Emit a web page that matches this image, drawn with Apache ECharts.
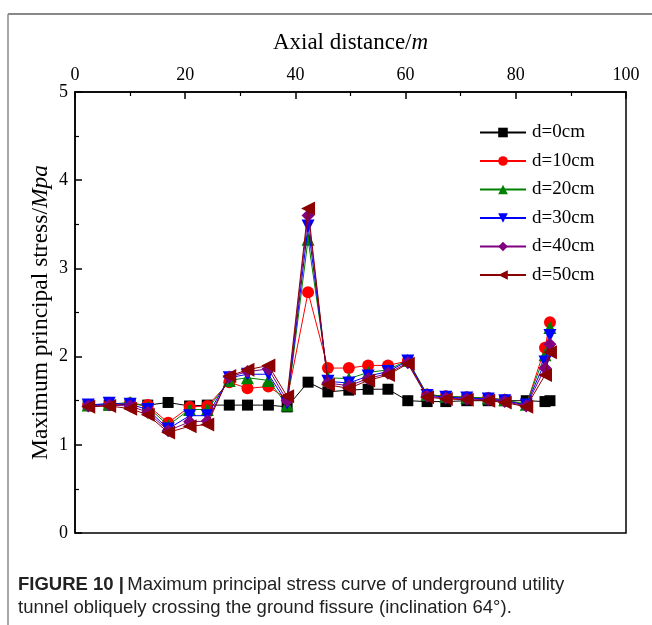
<!DOCTYPE html>
<html>
<head>
<meta charset="utf-8">
<script src="https://cdn.jsdelivr.net/npm/echarts@6/dist/echarts.min.js"></script>
<style>
html,body{margin:0;padding:0;background:#fff;}
#c{width:652px;height:625px;}
</style>
</head>
<body>
<div id="c"></div>
<script>
// Axial distance (m)
var xs = [2.4, 6.2, 10.0, 13.2, 16.9, 20.8, 24.0, 28.0, 31.3, 35.1, 38.5, 42.3, 45.9, 49.7, 53.2, 56.8, 60.4, 63.9, 67.3, 71.1, 75.0, 78.0, 81.9, 85.3, 86.2];
var d0  = [1.45,1.45,1.46,1.45,1.48,1.44,1.45,1.45,1.45,1.45,1.43,1.71,1.60,1.62,1.63,1.63,1.50,1.49,1.49,1.50,1.50,1.50,1.50,1.49,1.50];
var d10 = [1.45,1.45,1.47,1.45,1.25,1.43,1.44,1.71,1.64,1.66,1.52,2.73,1.87,1.87,1.90,1.90,1.95,1.57,1.55,1.54,1.53,1.51,1.45,2.10,2.39];
var d20 = [1.45,1.46,1.48,1.43,1.22,1.40,1.40,1.73,1.76,1.73,1.45,3.33,1.76,1.75,1.82,1.85,1.96,1.57,1.55,1.54,1.53,1.51,1.46,2.02,2.33];
var d30 = [1.45,1.47,1.46,1.40,1.18,1.33,1.33,1.76,1.80,1.80,1.47,3.48,1.72,1.70,1.78,1.83,1.95,1.56,1.54,1.53,1.52,1.50,1.45,1.94,2.24];
var d40 = [1.44,1.45,1.44,1.37,1.16,1.26,1.27,1.77,1.83,1.86,1.50,3.60,1.70,1.67,1.75,1.81,1.93,1.55,1.53,1.52,1.51,1.49,1.44,1.87,2.14];
var d50 = [1.43,1.44,1.41,1.34,1.14,1.21,1.23,1.78,1.85,1.90,1.55,3.68,1.68,1.64,1.73,1.79,1.92,1.54,1.52,1.51,1.50,1.48,1.43,1.79,2.05];
var names = ['d=0cm','d=10cm','d=20cm','d=30cm','d=40cm','d=50cm'];
var xTicks = [0,20,40,60,80,100];
var yTicks = [0,1,2,3,4,5];

var serif = 'Liberation Serif, Times New Roman, serif';
function pairs(ys){ return xs.map(function(x,i){ return [x, ys[i]]; }); }
var specs = [
  {d:d0,  color:'#000000', symbol:'rect', rot:0, size:11},
  {d:d10, color:'#ff0000', symbol:'circle', rot:0, size:12},
  {d:d20, color:'#008000', symbol:'triangle', rot:0, size:13},
  {d:d30, color:'#0000ff', symbol:'triangle', rot:180, size:13},
  {d:d40, color:'#800080', symbol:'diamond', rot:0, size:13},
  {d:d50, color:'#8b0000', symbol:'triangle', rot:90, size:14}
];
var series = specs.map(function(s,i){
  return {
    name: names[i], type:'line', data: pairs(s.d),
    symbol: s.symbol, symbolRotate: s.rot, symbolSize: s.size,
    lineStyle:{color:s.color, width:1},
    itemStyle:{color:s.color},
    animation:false, z: 2+i
  };
});

var chart = echarts.init(document.getElementById('c'));
chart.setOption({
  backgroundColor:'#fff',
  animation:false,
  grid:{left:75, right:26, top:92, bottom:92, show:true, borderColor:'#000', borderWidth:1.5, backgroundColor:'transparent'},
  legend:{
    orient:'vertical', left:474, top:118, itemWidth:46, itemHeight:12, itemGap:9.5,
    data:names,
    textStyle:{fontFamily:serif, fontSize:19, color:'#000', padding:[0,0,0,1]}
  },
  xAxis:[{
    type:'value', position:'top', min:0, max:100, interval:20,
    name:'{a|Axial distance/}{b|m}', nameLocation:'middle', nameGap:38, nameMoveOverlap:false,
    nameTextStyle:{rich:{a:{fontFamily:serif,fontSize:23,color:'#000'}, b:{fontFamily:serif,fontSize:23,fontStyle:'italic',color:'#000'}}},
    axisLine:{onZero:false, lineStyle:{color:'#000', width:1.5}},
    axisTick:{inside:true, length:7, lineStyle:{color:'#000', width:1.5}},
    minorTick:{show:true, splitNumber:2, length:4, lineStyle:{color:'#000', width:1.2}},
    axisLabel:{fontFamily:serif, fontSize:18, color:'#000', margin:8,
      formatter:function(v){ return xTicks.indexOf(v)>=0 ? String(v) : ''; }},
    splitLine:{show:false}
  }],
  yAxis:[{
    type:'value', min:0, max:5, interval:1,
    name:'{a|Maximum principal stress/}{b|Mpa}', nameLocation:'middle', nameGap:22, nameMoveOverlap:false,
    nameTextStyle:{rich:{a:{fontFamily:serif,fontSize:23.5,color:'#000'}, b:{fontFamily:serif,fontSize:23.5,fontStyle:'italic',color:'#000'}}},
    axisLine:{onZero:false, lineStyle:{color:'#000', width:1.5}},
    axisTick:{inside:true, length:7, lineStyle:{color:'#000', width:1.5}},
    minorTick:{show:true, splitNumber:2, length:4, lineStyle:{color:'#000', width:1.2}},
    axisLabel:{fontFamily:serif, fontSize:18, color:'#000', margin:7,
      formatter:function(v){ return yTicks.indexOf(v)>=0 ? String(v) : ''; }},
    splitLine:{show:false}
  }],
  graphic:[
    {type:'line', shape:{x1:8, y1:14, x2:652, y2:14}, style:{stroke:'#888', lineWidth:2}},
    {type:'line', shape:{x1:8, y1:14, x2:8, y2:625}, style:{stroke:'#888', lineWidth:1.5}},
    {type:'text', left:18, top:575, style:{
      text:'{b|FIGURE 10 |} {n|Maximum principal stress curve of underground utility}\n{n|tunnel obliquely crossing the ground fissure (inclination 64°).}',
      rich:{
        b:{fontFamily:'Liberation Sans, Arial, sans-serif', fontWeight:'bold', fontSize:18.5, fill:'#222', lineHeight:23},
        n:{fontFamily:'Liberation Sans, Arial, sans-serif', fontSize:18.5, fill:'#222', lineHeight:23}
      }
    }}
  ],
  series: series
});
</script>
</body>
</html>
